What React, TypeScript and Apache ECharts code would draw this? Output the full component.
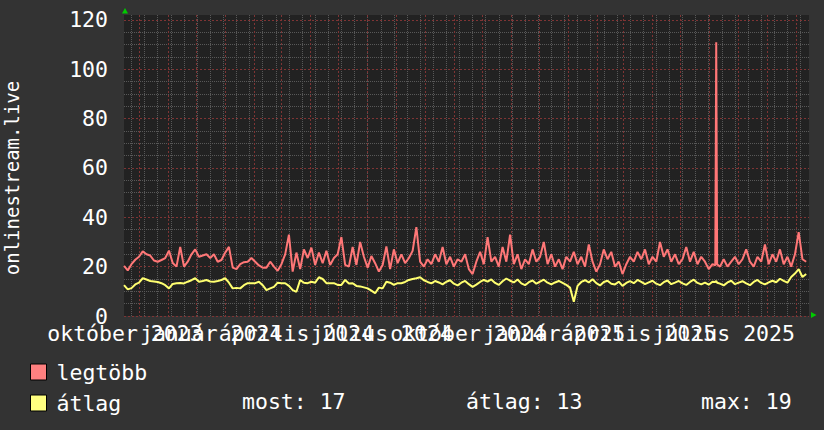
import React, { useEffect, useRef } from "react";
import * as echarts from "echarts";

const FONT = "DejaVu Sans Mono";
const RED = "#ff7777";
const YELLOW = "#ffff70";
const MAJOR_GRID = "#7e3434";
const MINOR_GRID = "#585858";

// time base: day 0 is the left edge of the plot
const START_UTC = Date.UTC(2023, 8, 30);
const END_DAY = 731;
const dayOf = (y: number, m: number, d: number) =>
  Math.round((Date.UTC(y, m - 1, d) - START_UTC) / 86400000);

// x-axis labels (quarterly)
const labelMonths: [number, number][] = [
  [2023, 10], [2024, 1], [2024, 4], [2024, 7],
  [2024, 10], [2025, 1], [2025, 4], [2025, 7],
];
const xLabels = [
  "október 2023", "január 2024", "április 2024", "július 2024",
  "október 2024", "január 2025", "április 2025", "július 2025",
];
const labelDays = labelMonths.map(([y, m]) => dayOf(y, m, 1));
// adjacent labels overlap (as in the reference), so they are split over two label rows at the same place
const labelDaysA = labelDays.filter((_, i) => i % 2 === 0);
const labelDaysB = labelDays.filter((_, i) => i % 2 === 1);

// grid lines: major at mid-month, minor every two weeks
const majorGridDays: number[] = [];
for (let y = 2023, m = 10; y < 2025 || (y === 2025 && m <= 9); m === 12 ? (y++, m = 1) : m++) {
  majorGridDays.push(dayOf(y, m, 16));
}
const minorGridDays: number[] = [];
for (let d = 8; d <= END_DAY; d += 14) minorGridDays.push(d);

const yMajorTicks = [0, 20, 40, 60, 80, 100, 120];
const yMinorTicks = [5, 10, 15, 25, 30, 35, 45, 50, 55, 65, 70, 75, 85, 90, 95, 105, 110, 115];

// sample days: every 4 days, with daily samples around the spike
const sampleDays: number[] = [];
for (let d = 0; d <= 628; d += 4) sampleDays.push(d);
sampleDays.push(631, 632, 633);
for (let d = 636; d <= 728; d += 4) sampleDays.push(d);

const legtobb = [
  20.3, 18.5, 21, 22.8, 24, 26.2, 25, 24.5, 22.5, 22,
  22.7, 23.5, 26.5, 21.5, 20, 28, 20, 22, 25, 27,
  24, 24.5, 25, 23.5, 25, 22, 22.7, 25.7, 28, 19.6,
  19, 21, 21.8, 22, 23.5, 22, 20.5, 19.6, 19.6, 22,
  20, 18.3, 21, 25, 33, 18, 25.7, 19, 27, 23.5,
  27.7, 20.7, 25.7, 21.4, 26.4, 20.7, 23.5, 25, 32, 20.7,
  20, 28, 20.7, 30, 24, 19.6, 24.3, 21.4, 18, 20.7,
  28.2, 19, 27, 21.4, 25, 21.4, 23.5, 26.4, 36, 22,
  20, 23, 21, 25, 22, 28, 21, 24, 20, 23,
  22, 25, 19, 17, 22, 26, 21, 32, 22, 24,
  20, 28, 22, 33, 21, 25, 19, 23, 21, 27,
  22, 24, 30, 21, 25, 20, 23, 19, 24, 22,
  26, 21, 24, 20, 29, 22, 18, 21, 27, 23,
  26, 20, 22, 17, 21, 24, 22, 26, 23, 27,
  21, 24, 22, 30, 24, 27, 22, 25, 21, 23,
  28, 22, 26, 21, 24, 22, 19, 21,
  20.5, 111, 21,
  20, 23, 20, 22, 24, 21, 23, 27, 22, 20,
  24, 22, 29, 21, 25, 22, 27, 21, 24, 20,
  25, 34, 23, 22,
];

const atlag = [
  12.5, 10.8, 11.3, 12.8, 13.5, 15.3, 14.8, 14.2, 14, 13.8,
  13.3, 12.5, 11.2, 13, 13.3, 13.4, 13.2, 13.9, 14.5, 15.3,
  13.9, 14.2, 14.6, 14, 13.9, 14.2, 14.6, 15.3, 13.5, 11.2,
  11.4, 11.2, 12.5, 13.3, 13.3, 13.3, 13.9, 12.5, 10.5, 11.2,
  11.8, 13.5, 13.3, 13.3, 12.2, 10.5, 9.8, 14.6, 13.5, 13.3,
  13.9, 13.5, 15.7, 15, 13.3, 13.3, 13.3, 12.6, 12.6, 14.6,
  13.2, 13.3, 12.2, 12, 11.6, 11.2, 10.3, 9.2, 11.5, 11.2,
  13.9, 13.5, 12.6, 13.3, 13.3, 13.8, 14.6, 15, 15.3, 15.7,
  14.5, 13.8, 13.2, 14.2, 13.6, 12.8, 13.9, 14.5, 13.1, 12.4,
  13.5, 14.2, 12.9, 11.8, 12.7, 13.8, 14.6, 13.9, 14.8, 13.4,
  12.6, 14.1, 15.2, 14.3, 13.6, 14.8, 13.2, 12.5, 13.7, 14.4,
  13.1, 13.9, 14.7, 13.5, 12.8, 13.6, 14.2, 13.4, 12.6, 11.5,
  5.8, 12.2, 13.8, 14.5, 13.6, 14.9, 13.3, 12.4, 13.8, 14.3,
  13.1, 12.8, 13.9, 12.2, 13.4, 14.1, 13.3, 14.6, 13.8, 12.9,
  13.6, 14.3, 13.1, 12.5, 13.7, 14.4, 12.9, 13.5, 14.2, 13.2,
  12.6, 13.8, 14.7, 13.4, 12.8, 13.5, 12.7, 13.9,
  13.8, 14.2, 13.5,
  13.1, 12.4, 13.6, 14.3, 12.9, 13.5, 14.1, 13.2, 12.5, 13.8,
  14.6, 13.4, 12.8, 13.6, 14.3, 13.7, 15.1, 14.2, 13.5, 15.8,
  17.2, 19, 15.8, 17,
];

const seriesNames = ["legtöbb", "átlag"];

export default function App() {
  const ref = useRef<HTMLDivElement>(null);

  useEffect(() => {
    document.body.style.margin = "0";
    document.body.style.background = "#333333";
    const chart = echarts.init(ref.current!, null, { renderer: "svg" });

    const last = atlag[atlag.length - 1];
    const avg = atlag.reduce((a, b) => a + b, 0) / atlag.length;
    const mx = Math.max(...atlag);

    const xBase = { type: "value" as const, min: 0, max: END_DAY, gridIndex: 0 };
    const yBase = { type: "value" as const, min: 0, max: 122, gridIndex: 0 };
    const labelFont = { color: "#ffffff", fontFamily: FONT, fontSize: 21.5 };

    const labelAxis = (values: number[]) => ({
      ...xBase,
      position: "bottom",
      axisLine: { show: false },
      axisTick: { show: false },
      splitLine: { show: false },
      axisLabel: {
        ...labelFont,
        margin: 6,
        hideOverlap: false,
        showMinLabel: true,
        showMaxLabel: true,
        customValues: values,
        formatter: (v: number) => xLabels[labelDays.indexOf(v)] ?? "",
      },
    });

    chart.setOption({
      animation: false,
      backgroundColor: "#333333",
      textStyle: { fontFamily: FONT },
      grid: {
        left: 124, right: 15, top: 15, bottom: 114,
        show: true, backgroundColor: "#222222", borderWidth: 0,
        containLabel: false, outerBoundsMode: "none",
      },
      xAxis: [
        labelAxis(labelDaysA),
        labelAxis(labelDaysB),
        {
          ...xBase,
          position: "bottom",
          z: 0,
          axisLine: { show: false },
          axisLabel: { show: false },
          axisTick: { show: false, customValues: minorGridDays },
          splitLine: { show: true, customValues: minorGridDays, lineStyle: { color: MINOR_GRID, width: 1, type: [1, 1] } },
        },
        {
          ...xBase,
          position: "bottom",
          z: 1,
          axisLine: { show: false },
          axisLabel: { show: false },
          axisTick: { show: false, customValues: majorGridDays },
          splitLine: { show: true, customValues: majorGridDays, lineStyle: { color: MAJOR_GRID, width: 1, type: [2, 2] } },
        },
      ],
      yAxis: [
        {
          ...yBase,
          position: "left",
          z: 1,
          axisLine: { show: false },
          axisTick: { show: false, customValues: yMajorTicks },
          axisLabel: { ...labelFont, margin: 16, showMinLabel: true, showMaxLabel: true, customValues: yMajorTicks },
          splitLine: { show: true, customValues: yMajorTicks, lineStyle: { color: MAJOR_GRID, width: 1, type: [2, 2] } },
        },
        {
          ...yBase,
          position: "left",
          z: 0,
          axisLine: { show: false },
          axisLabel: { show: false },
          axisTick: { show: false, customValues: yMinorTicks },
          splitLine: { show: true, customValues: yMinorTicks, lineStyle: { color: MINOR_GRID, width: 1, type: [1, 1] } },
        },
      ],
      legend: {
        orient: "vertical",
        left: 30,
        top: 361,
        padding: 0,
        itemWidth: 16,
        itemHeight: 16,
        itemGap: 9,
        selectedMode: false,
        textStyle: { ...labelFont, lineHeight: 16, padding: [0, 0, 0, 5] },
        data: [
          { name: seriesNames[0], icon: "rect", itemStyle: { color: "#ff8080", borderColor: "#000", borderWidth: 1 } },
          { name: seriesNames[1], icon: "rect", itemStyle: { color: "#ffff80", borderColor: "#000", borderWidth: 1 } },
        ],
      },
      series: [
        {
          name: seriesNames[0],
          type: "line",
          xAxisIndex: 0,
          yAxisIndex: 0,
          showSymbol: false,
          symbol: "none",
          lineStyle: { color: RED, width: 2 },
          itemStyle: { color: RED },
          data: sampleDays.map((d, i) => [d, legtobb[i]]),
        },
        {
          name: seriesNames[1],
          type: "line",
          xAxisIndex: 0,
          yAxisIndex: 0,
          showSymbol: false,
          symbol: "none",
          lineStyle: { color: YELLOW, width: 2 },
          itemStyle: { color: YELLOW },
          data: sampleDays.map((d, i) => [d, atlag[i]]),
        },
      ],
      graphic: [
        {
          type: "text",
          x: 12,
          y: 178,
          rotation: Math.PI / 2,
          style: { text: "onlinestream.live", fill: "#ffffff", font: `19px "${FONT}"`, align: "center", verticalAlign: "middle" },
        },
        {
          type: "polygon",
          shape: { points: [[122, 13.5], [128, 13.5], [125, 8]] },
          style: { fill: "#00cc00" },
        },
        {
          type: "polygon",
          shape: { points: [[811, 312], [811, 318], [816.5, 315]] },
          style: { fill: "#00cc00" },
        },
        {
          type: "text", x: 242, y: 401,
          style: { text: `most: ${Math.round(last)}`, fill: "#ffffff", font: `21.5px "${FONT}"`, align: "left", verticalAlign: "middle" },
        },
        {
          type: "text", x: 466, y: 401,
          style: { text: `átlag: ${Math.round(avg)}`, fill: "#ffffff", font: `21.5px "${FONT}"`, align: "left", verticalAlign: "middle" },
        },
        {
          type: "text", x: 701, y: 401,
          style: { text: `max: ${Math.round(mx)}`, fill: "#ffffff", font: `21.5px "${FONT}"`, align: "left", verticalAlign: "middle" },
        },
      ],
    });

    return () => chart.dispose();
  }, []);

  return <div ref={ref} style={{ width: 824, height: 430 }} />;
}
